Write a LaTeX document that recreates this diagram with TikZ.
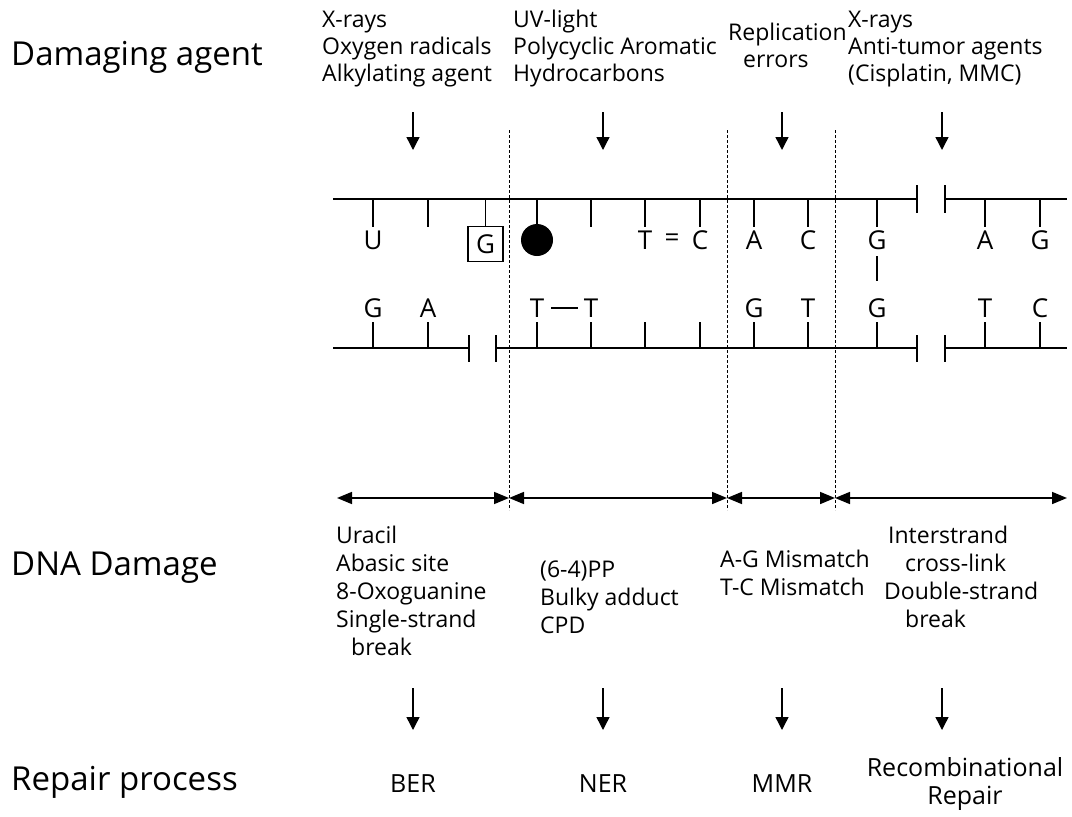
\documentclass[tikz,border=0pt]{standalone}
\usepackage{fontspec}
\setmainfont{Open Sans}
\usetikzlibrary{arrows.meta}

\begin{document}
\begin{tikzpicture}[x=1pt,y=-1pt,
    txt/.style={anchor=base west,inner sep=0pt,font=\fontsize{23}{27}\selectfont},
    rowlabel/.style={anchor=base west,inner sep=0pt,font=\fontsize{33}{38}\selectfont},
    rep/.style={anchor=base,inner sep=0pt,font=\fontsize{25}{30}\selectfont},
    nucl/.style={inner sep=0pt,font=\fontsize{26}{30}\selectfont},
    strand/.style={line width=1.3pt},
    flow/.style={line width=1.4pt,-{Triangle[length=13pt,width=13pt]}},
    zone/.style={line width=1.6pt,{Triangle[length=15pt,width=12pt]}-{Triangle[length=15pt,width=12pt]}},
    divider/.style={line width=1pt,dash pattern=on 3pt off 2pt}]
  \useasboundingbox (0,0) rectangle (1072,817);

  % row labels
  \node[rowlabel] (agent) at (11,65) {Damaging agent};
  \node[rowlabel] (damage) at (11,575) {DNA Damage};
  \node[rowlabel] (repair) at (11,790) {Repair process};

  % damaging agents
  \node[txt] (xr1) at (322,27) {X-rays};
  \node[txt] (oxy) at (322,54) {Oxygen radicals};
  \node[txt] (alk) at (322,81) {Alkylating agent};
  \node[txt] (uv) at (513,27) {UV-light};
  \node[txt] (pah) at (513,54) {Polycyclic Aromatic};
  \node[txt] (hyd) at (513,81) {Hydrocarbons};
  \node[txt] (repl) at (728,40) {Replication};
  \node[txt] (err) at (743,67) {errors};
  \node[txt] (xr2) at (848,27) {X-rays};
  \node[txt] (atu) at (848,54) {Anti-tumor agents};
  \node[txt] (cis) at (848,81) {(Cisplatin, MMC)};

  \draw[flow] (413,112) coordinate (a1) -- (413,150) coordinate (b1);
  \draw[flow] (603,112) coordinate (a2) -- (603,150) coordinate (b2);
  \draw[flow] (782,112) coordinate (a3) -- (782,150) coordinate (b3);
  \draw[flow] (942,112) coordinate (a4) -- (942,150) coordinate (b4);

  % dividers
  \draw[divider] (509,130) -- (509,510);
  \draw[divider] (727,130) -- (727,510);
  \draw[divider] (835,130) -- (835,510);

  % top strand
  \draw[strand] (333,199) -- (917,199) (917,185) -- (917,213);
  \draw[strand] (945,185) -- (945,213) (945,199) -- (1067,199);
  \draw[strand] (373,199) -- (373,227) (428,199) -- (428,227)
    (591,199) -- (591,227) (645,199) -- (645,227) (700,199) -- (700,227)
    (754,199) -- (754,227) (808,199) -- (808,227) (877,199) -- (877,227)
    (985,199) -- (985,227) (1040,199) -- (1040,227);

  \node[nucl,draw,line width=1.1pt,minimum size=35pt] (oxog) at (485.5,244) {G};
  \node[circle,fill,minimum size=32pt,inner sep=0pt] (adduct) at (537,240) {};
  \draw[strand] (485.5,199) -- (oxog.north);
  \draw[strand] (537,199) -- (adduct.north);

  \node[nucl] (u1) at (373,240) {U};
  \node[nucl] (t1) at (645,240) {T};
  \node[nucl] (eq) at (672,240) {=};
  \node[nucl] (c1) at (700,240) {C};
  \node[nucl] (a1n) at (754,240) {A};
  \node[nucl] (c2) at (808,240) {C};
  \node[nucl] (gx1) at (877,240) {G};
  \node[nucl] (a2n) at (985,240) {A};
  \node[nucl] (g2) at (1040,240) {G};

  % bottom strand
  \node[nucl] (g3) at (373,308) {G};
  \node[nucl] (a3n) at (428,308) {A};
  \node[nucl] (tt1) at (537,308) {T};
  \node[nucl] (tt2) at (591,308) {T};
  \node[nucl] (g4) at (754,308) {G};
  \node[nucl] (t2) at (808,308) {T};
  \node[nucl] (gx2) at (877,308) {G};
  \node[nucl] (t3) at (985,308) {T};
  \node[nucl] (c3) at (1040,308) {C};

  \draw[line width=1.3pt] ([xshift=7pt]tt1.east) -- ([xshift=-6pt]tt2.west);
  \draw[strand] (877,256) -- (877,281);

  \draw[strand] (333,348) -- (469,348) (469,335) -- (469,362);
  \draw[strand] (496,335) -- (496,362) (496,348) -- (917,348) (917,335) -- (917,362);
  \draw[strand] (945,335) -- (945,362) (945,348) -- (1067,348);
  \draw[strand] (373,348) -- (373,322) (428,348) -- (428,322)
    (537,348) -- (537,322) (591,348) -- (591,322) (645,348) -- (645,322)
    (700,348) -- (700,322) (754,348) -- (754,322) (808,348) -- (808,322)
    (877,348) -- (877,322) (985,348) -- (985,322) (1040,348) -- (1040,322);

  % ranges
  \coordinate (d0) at (337,498);
  \coordinate (d1) at (509,498);
  \coordinate (d2) at (727,498);
  \coordinate (d3) at (835,498);
  \coordinate (d4) at (1067,498);
  \draw[zone] (d0) -- (d1);
  \draw[zone] (d1) -- (d2);
  \draw[zone] (d2) -- (d3);
  \draw[zone] (d3) -- (d4);

  % DNA damage
  \node[txt] (ura) at (336,543) {Uracil};
  \node[txt] (aba) at (336,571) {Abasic site};
  \node[txt] (oxo) at (336,599) {8-Oxoguanine};
  \node[txt] (ssb) at (336,627) {Single-strand};
  \node[txt] (ssb2) at (351,655) {break};
  \node[txt] (pp) at (540,577) {(6-4)PP};
  \node[txt] (bulky) at (540,605) {Bulky adduct};
  \node[txt] (cpd) at (540,633) {CPD};
  \node[txt] (agm) at (720,567) {A-G Mismatch};
  \node[txt] (tcm) at (720,595) {T-C Mismatch};
  \node[txt] (icl) at (888,543) {Interstrand};
  \node[txt] (icl2) at (905,571) {cross-link};
  \node[txt] (dsb) at (884,599) {Double-strand};
  \node[txt] (dsb2) at (905,627) {break};

  \draw[flow] (413,688) coordinate (e1) -- (413,730) coordinate (f1);
  \draw[flow] (603,688) coordinate (e2) -- (603,730) coordinate (f2);
  \draw[flow] (782,688) coordinate (e3) -- (782,730) coordinate (f3);
  \draw[flow] (942,688) coordinate (e4) -- (942,730) coordinate (f4);

  % repair
  \node[rep] (ber) at (413,792) {BER};
  \node[rep] (ner) at (603,792) {NER};
  \node[rep] (mmr) at (782,792) {MMR};
  \node[rep] (rec) at (965,776) {Recombinational};
  \node[rep] (rec2) at (965,804) {Repair};

\end{tikzpicture}
\end{document}
